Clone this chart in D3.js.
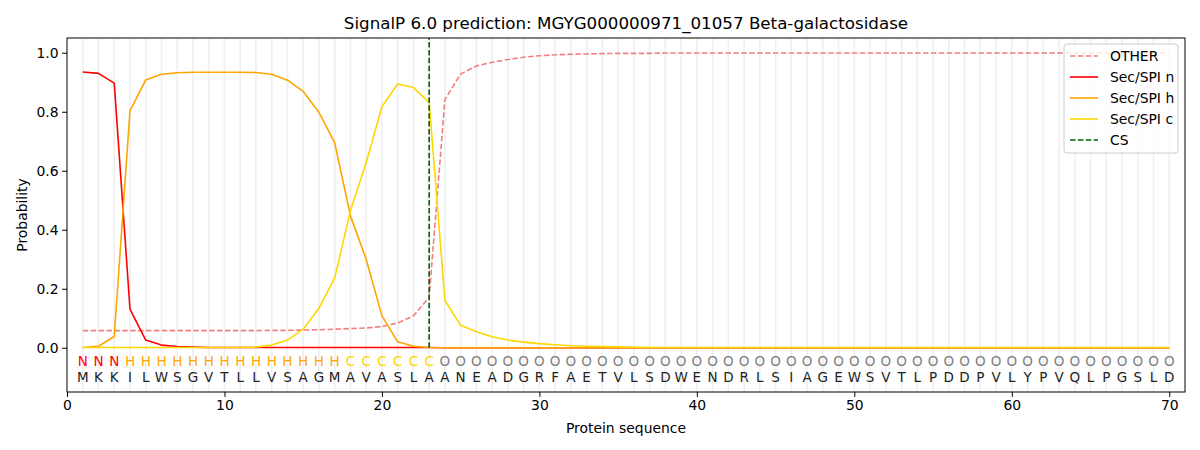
<!DOCTYPE html>
<html>
<head>
<meta charset="utf-8">
<script src="https://cdn.jsdelivr.net/npm/d3@7"></script>
<style>
  html, body { margin: 0; padding: 0; background: #fff; }
  svg { display: block; font-family: "DejaVu Sans", sans-serif; }
</style>
</head>
<body>
<svg id="chart" width="1200" height="450"></svg>
<script>
const sequence = "MKKILWSGVTLLVSAGMAVASLAANEADGRFAETVLSDWENDRLSIAGEWSVTLPDDPVLYPVQLPGSLD".split("");
const classLabels = "NNNHHHHHHHHHHHHHHCCCCCCOOOOOOOOOOOOOOOOOOOOOOOOOOOOOOOOOOOOOOOOOOOOOOO".split("");
const cleavageSite = 23;

const otherProb = [0.058,0.058,0.058,0.058,0.058,0.058,0.058,0.058,0.058,0.058,
  0.058,0.058,0.059,0.059,0.060,0.061,0.063,0.065,0.067,0.072,
  0.084,0.108,0.171,0.841,0.928,0.955,0.968,0.977,0.985,0.990,
  0.993,0.995,0.996,0.997,0.998,0.998,0.998,0.999,0.999,0.999,
  0.999,0.999,0.999,0.999,0.999,0.999,0.999,0.999,0.999,0.999,
  0.999,0.999,0.999,0.999,0.999,0.999,0.999,0.999,0.999,0.999,
  0.999,0.999,0.999,0.999,0.999,0.999,0.999,0.999,0.999,0.999];
const secN = [0.935,0.930,0.897,0.131,0.026,0.009,0.004,0.002,0.001,0.001,
  0.001,0.001,0.001,0.001,0.001,0.001,0.001,0.001,0.001,0.001,
  0.001,0.001,0.001,0,0,0,0,0,0,0,
  0,0,0,0,0,0,0,0,0,0, 0,0,0,0,0,0,0,0,0,0,
  0,0,0,0,0,0,0,0,0,0, 0,0,0,0,0,0,0,0,0,0];
const secH = [0.001,0.005,0.038,0.803,0.908,0.927,0.932,0.934,0.934,0.934,
  0.934,0.933,0.927,0.907,0.869,0.798,0.695,0.447,0.300,0.108,
  0.020,0.005,0.001,0,0,0,0,0,0,0,
  0,0,0,0,0,0,0,0,0,0, 0,0,0,0,0,0,0,0,0,0,
  0,0,0,0,0,0,0,0,0,0, 0,0,0,0,0,0,0,0,0,0];
const secC = [0.001,0.001,0.001,0.001,0.001,0.001,0.001,0.001,0.001,0.001,
  0.001,0.002,0.009,0.026,0.063,0.134,0.236,0.464,0.628,0.817,
  0.894,0.882,0.832,0.160,0.076,0.054,0.037,0.026,0.019,0.014,
  0.010,0.007,0.005,0.004,0.003,0.002,0.001,0.001,0.001,0.001,
  0.001,0.001,0.001,0.001,0.001,0.001,0.001,0.001,0.001,0.001,
  0.001,0.001,0.001,0.001,0.001,0.001,0.001,0.001,0.001,0.001,
  0.001,0.001,0.001,0.001,0.001,0.001,0.001,0.001,0.001,0.001];
const xTicks = [0,10,20,30,40,50,60,70];
const yTicks = [0.0,0.2,0.4,0.6,0.8,1.0];

const seriesList = [
  {name: "OTHER", values: otherProb, color: "#f08080", dash: "5.5,2.4"},
  {name: "Sec/SPI n", values: secN, color: "#ff0000", dash: null},
  {name: "Sec/SPI h", values: secH, color: "#ffa500", dash: null},
  {name: "Sec/SPI c", values: secC, color: "#ffd700", dash: null}
];
const classColor = {N: "#ff0000", H: "#ffa500", C: "#ffd700", O: "#808080"};

const svg = d3.select("#chart");
const L = 67, R = 1185, T = 38, B = 392;
const x = d3.scaleLinear().domain([0, 71]).range([L, R]);
const y = d3.scaleLinear().domain([-0.15, 1.05]).range([B, T]);
const positions = d3.range(1, sequence.length + 1);

// vertical grid lines
svg.append("g").selectAll("line").data(positions).join("line")
  .attr("x1", d => x(d)).attr("x2", d => x(d))
  .attr("y1", T).attr("y2", B)
  .attr("stroke", "#efefef").attr("stroke-width", 1.6);

// series lines
const line = d3.line().x((d, i) => x(i + 1)).y(d => y(d));
seriesList.forEach(s => {
  svg.append("path").datum(s.values)
    .attr("d", line).attr("fill", "none")
    .attr("stroke", s.color).attr("stroke-width", 1.6)
    .attr("stroke-dasharray", s.dash)
    .attr("stroke-linejoin", "round");
});

// cleavage site line
svg.append("line")
  .attr("x1", x(cleavageSite)).attr("x2", x(cleavageSite))
  .attr("y1", y(0)).attr("y2", T)
  .attr("stroke", "#006400").attr("stroke-width", 1.6)
  .attr("stroke-dasharray", "5.5,2.4");

// class labels and residues
svg.append("g").selectAll("text").data(classLabels).join("text")
  .attr("x", (d, i) => x(i + 1)).attr("y", y(-0.045))
  .attr("text-anchor", "middle").attr("dominant-baseline", "central")
  .attr("font-size", 13.5).attr("fill", d => classColor[d])
  .text(d => d);
svg.append("g").selectAll("text").data(sequence).join("text")
  .attr("x", (d, i) => x(i + 1)).attr("y", y(-0.1))
  .attr("text-anchor", "middle").attr("dominant-baseline", "central")
  .attr("font-size", 13.5).attr("fill", "#222")
  .text(d => d);

// frame
svg.append("rect").attr("x", L).attr("y", T).attr("width", R - L).attr("height", B - T)
  .attr("fill", "none").attr("stroke", "#000").attr("stroke-width", 1);

// axes
const xAxis = svg.append("g").attr("transform", `translate(0,${B})`)
  .call(d3.axisBottom(x).tickValues(xTicks).tickFormat(d3.format("d")).tickSizeOuter(0).tickSize(4.9).tickPadding(3.5));
const yAxis = svg.append("g").attr("transform", `translate(${L},0)`)
  .call(d3.axisLeft(y).tickValues(yTicks).tickFormat(d3.format(".1f")).tickSizeOuter(0).tickSize(4.9).tickPadding(3.5));
[xAxis, yAxis].forEach(a => {
  a.select(".domain").remove();
  a.selectAll("text").attr("font-size", 13.9).attr("fill", "#000").attr("font-family", "DejaVu Sans, sans-serif");
  a.selectAll("line").attr("stroke", "#000");
});

// titles
svg.append("text").attr("x", (L + R) / 2).attr("y", 23)
  .attr("text-anchor", "middle").attr("dominant-baseline", "central")
  .attr("font-size", 16.7).text("SignalP 6.0 prediction: MGYG000000971_01057 Beta-galactosidase");
svg.append("text").attr("x", (L + R) / 2).attr("y", 428)
  .attr("text-anchor", "middle").attr("dominant-baseline", "central")
  .attr("font-size", 13.9).text("Protein sequence");
svg.append("text").attr("transform", "translate(22,215) rotate(-90)")
  .attr("text-anchor", "middle").attr("dominant-baseline", "central")
  .attr("font-size", 13.9).text("Probability");

// legend
const legendItems = seriesList.map(s => ({name: s.name, color: s.color, dash: s.dash}))
  .concat([{name: "CS", color: "#006400", dash: "5.5,2.4"}]);
const lg = svg.append("g");
lg.append("rect").attr("x", 1064).attr("y", 44).attr("width", 114).attr("height", 109)
  .attr("rx", 3).attr("fill", "#fff").attr("fill-opacity", 0.8)
  .attr("stroke", "#cccccc").attr("stroke-width", 1);
legendItems.forEach((it, i) => {
  const yy = 56 + i * 21;
  lg.append("line").attr("x1", 1070).attr("x2", 1098).attr("y1", yy).attr("y2", yy)
    .attr("stroke", it.color).attr("stroke-width", 1.6).attr("stroke-dasharray", it.dash);
  lg.append("text").attr("x", 1110).attr("y", yy).attr("dominant-baseline", "central")
    .attr("font-size", 13.9).text(it.name);
});
</script>
</body>
</html>
